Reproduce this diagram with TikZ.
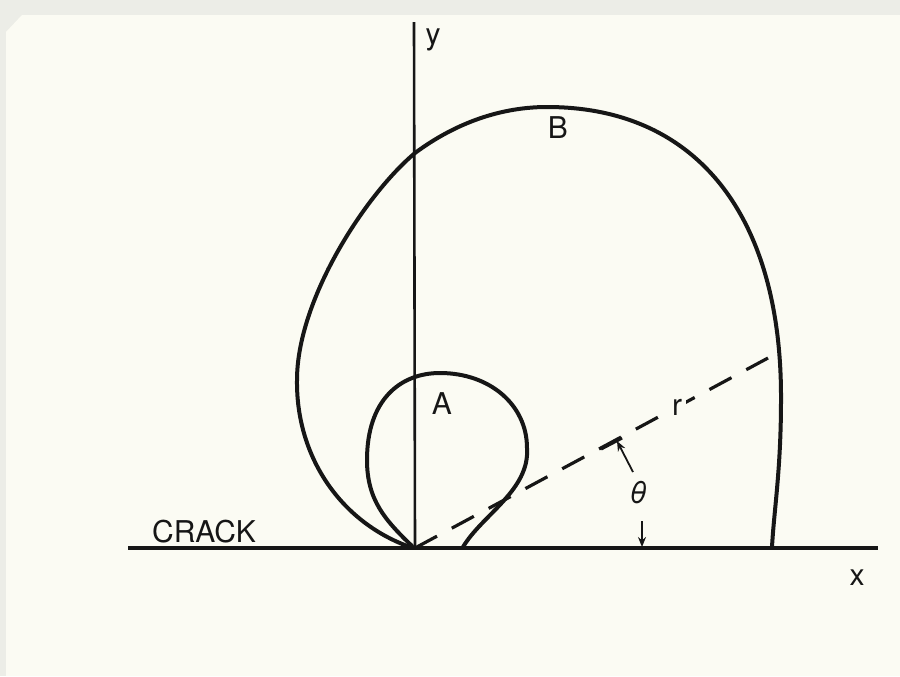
\documentclass[tikz,border=0pt]{standalone}
\usepackage{fontspec}
\setmainfont{TeX Gyre Heros}
\usepackage{tikz}
\usetikzlibrary{arrows.meta,calc,positioning}
\definecolor{paper}{RGB}{251,251,243}
\definecolor{edge}{RGB}{236,237,231}
\definecolor{ink}{RGB}{22,22,22}

\begin{document}
\begin{tikzpicture}[x=0.5pt,y=-0.5pt,
  curve/.style={line width=2pt,ink,line join=round,line cap=round},
  lbl/.style={font=\fontsize{15}{17}\selectfont,text=ink,inner sep=0pt},
  tip/.style={-{Stealth[length=5pt,width=4pt]},line width=0.9pt,ink}]
  \useasboundingbox (0,0) rectangle (900,676);
  \fill[edge] (0,0) rectangle (900,676);
  \fill[paper] (6,32) -- (22,15) -- (900,15) -- (900,676) -- (6,676) -- cycle;
  % axes
  \coordinate (O) at (415,548);
  \coordinate (xl) at (128,548);
  \coordinate (xr) at (878,548);
  \coordinate (yt) at (414,22);
  \draw[line width=2.3pt,ink] (xl) -- (xr);
  \draw[line width=1.3pt,ink] (O) -- (yt);
  % curve B
  \draw[curve] (410,547) .. controls (340,522) and (296,456) .. (297,380)
    .. controls (297,300) and (365,195) .. (415,153)
    .. controls (450,127) and (495,107) .. (547,107)
    .. controls (700,107) and (782,220) .. (781,400)
    .. controls (781,470) and (774,510) .. (772,547);
  % curve A
  \draw[curve] (412,546) .. controls (385,520) and (367,500) .. (367,460)
    .. controls (367,400) and (400,373) .. (440,373)
    .. controls (490,373) and (527,405) .. (527,448)
    .. controls (530,490) and (482,515) .. (463,547);
  % radius
  \coordinate (rend) at (768,358);
  \draw[line width=1.6pt,ink,dash pattern=on 12.5pt off 8.4pt] (O) -- (rend);
  \node[lbl,fill=paper,inner sep=2pt] (rlab) at (677,407) {r};
  % angle marks
  \coordinate (tk1) at (601,449);
  \coordinate (tk2) at (622,438);
  \draw[line width=1.6pt,ink] (tk1) -- (tk2);
  \node[lbl] (th) at (638,493) {\textit{θ}};
  \coordinate (a1s) at (633,472);
  \coordinate (a1e) at (617,441);
  \coordinate (a2s) at (642,521);
  \coordinate (a2e) at (642,547);
  \draw[tip] (a1s) -- (a1e);
  \draw[tip] (a2s) -- (a2e);
  % labels
  \node[lbl] (ylab) at (433,40) {y};
  \node[lbl] (xlab) at (857,578) {x};
  \node[lbl] (blab) at (558,128) {B};
  \node[lbl] (alab) at (442,404) {A};
  \node[lbl] (crack) at (204,532) {CRACK};
\end{tikzpicture}
\end{document}
